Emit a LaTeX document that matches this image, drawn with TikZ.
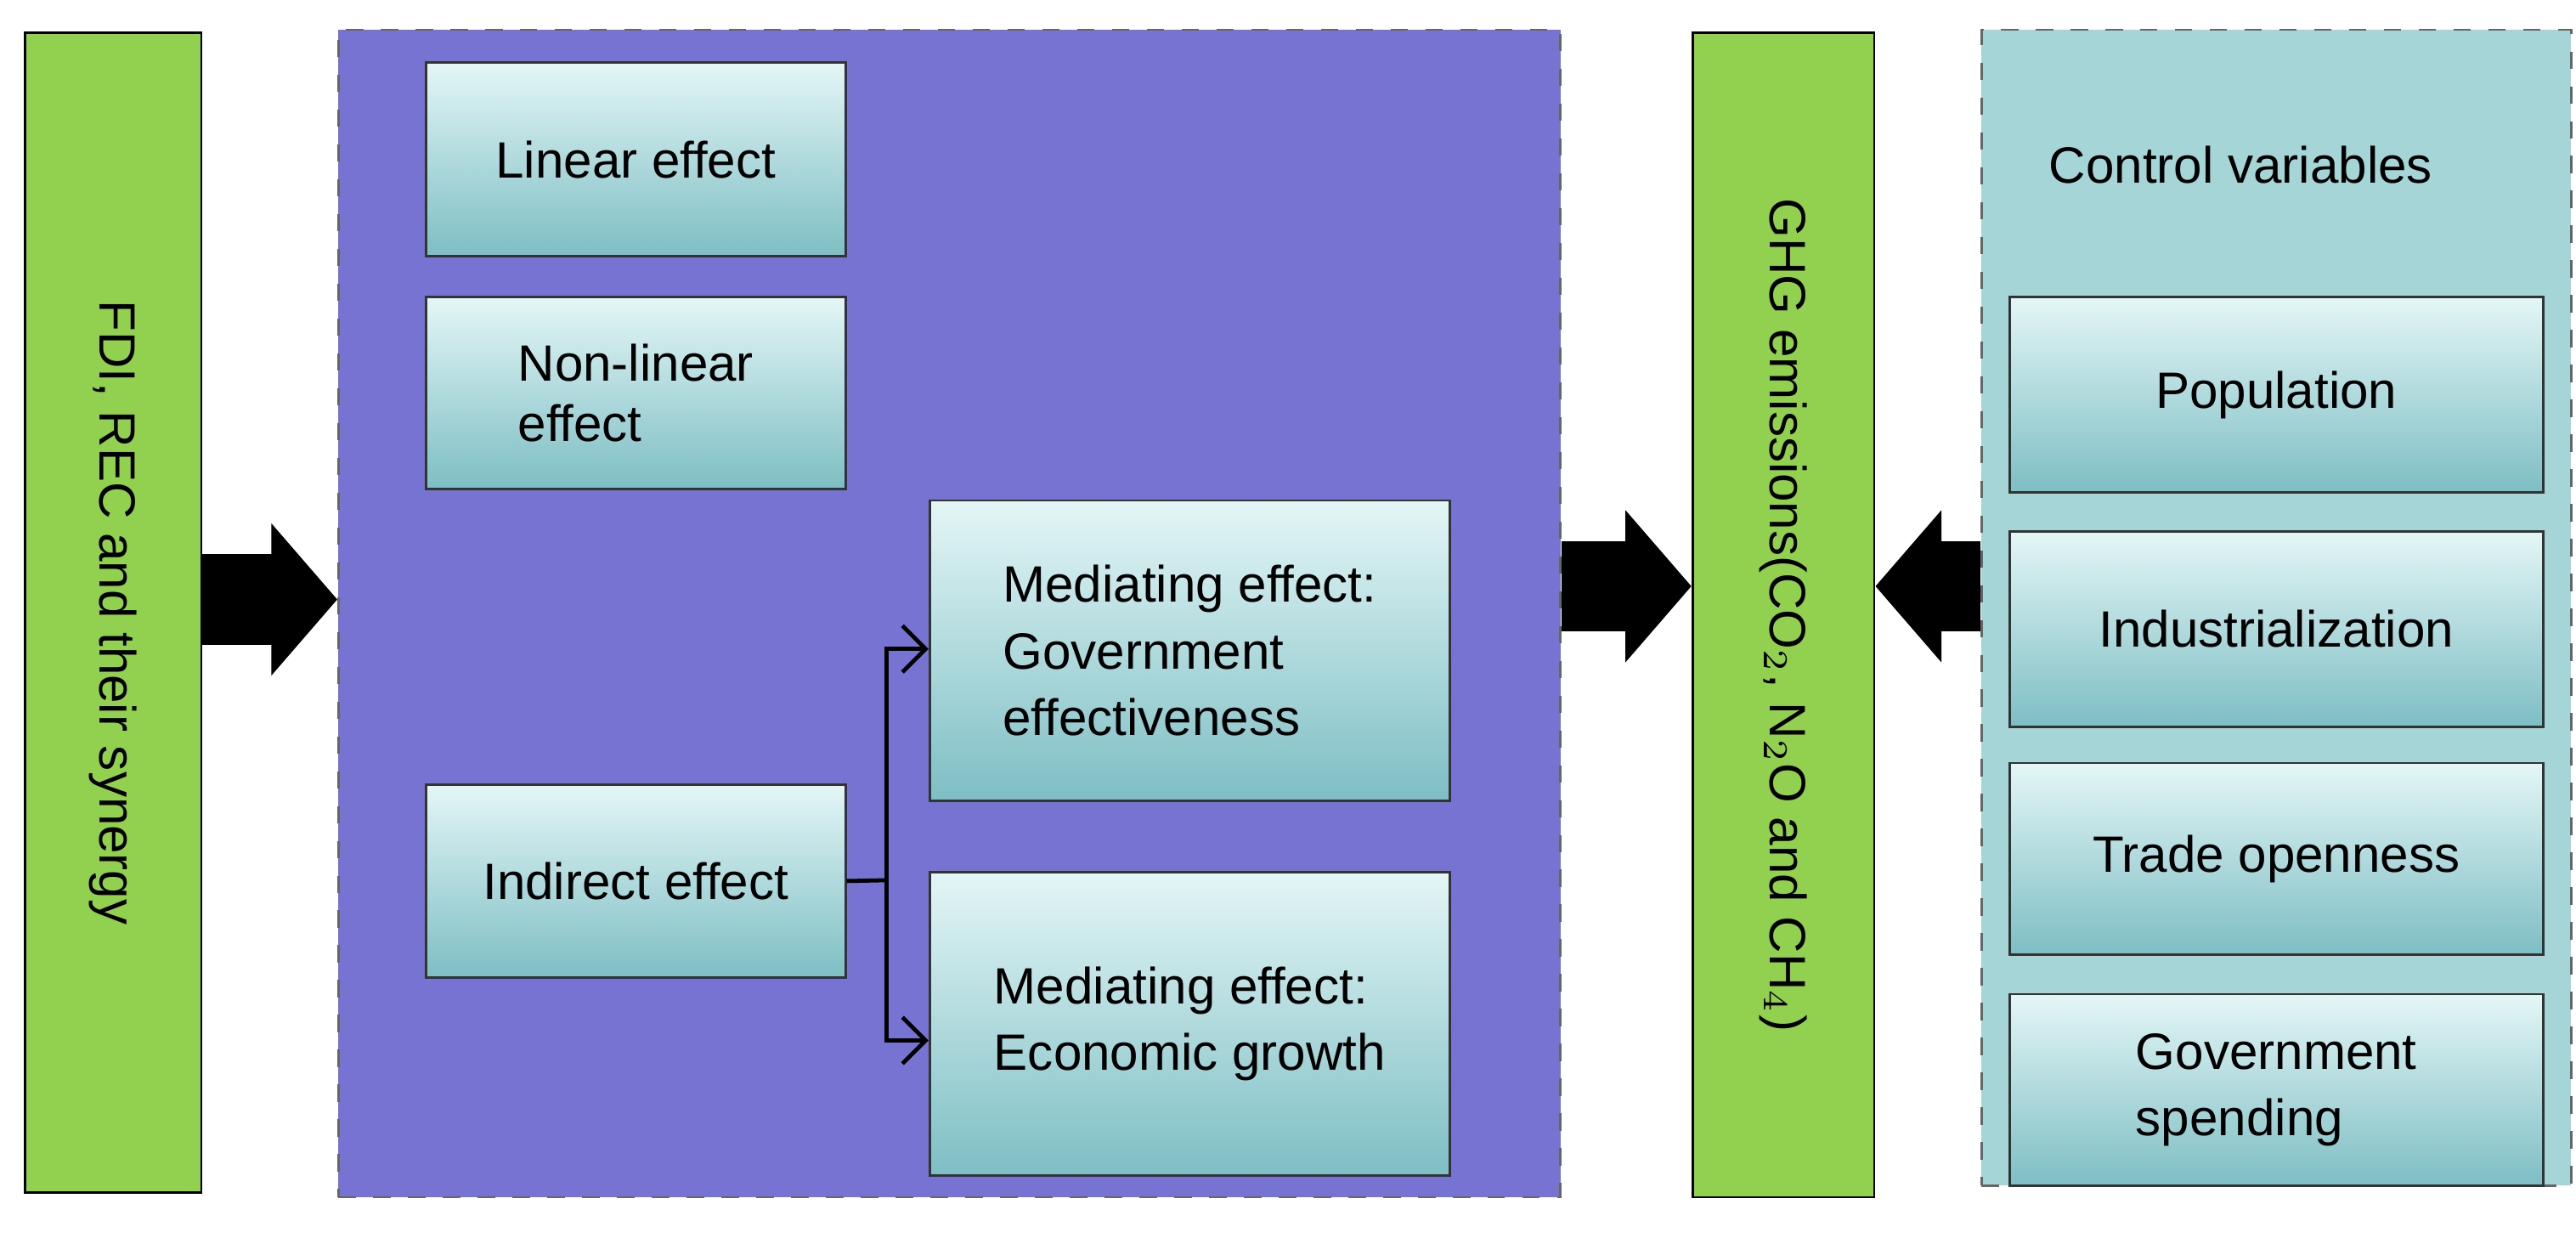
\documentclass[tikz,border=0pt]{standalone}
\usepackage{fontspec}
\setmainfont{Liberation Sans}
\usetikzlibrary{arrows.meta}
\begin{document}
\begin{tikzpicture}[x=1cm,y=-1cm,
  every node/.style={font=\fontsize{8.8}{11.5}\selectfont},
  bar/.style={draw=black,fill={rgb,255:red,146;green,208;blue,80},minimum width=1.07cm,inner sep=0},
  panel/.style={draw=black!60,dashed,inner sep=0},
  eff/.style={draw=black!80,top color={rgb,255:red,228;green,246;blue,246},bottom color={rgb,255:red,125;green,190;blue,196},inner sep=0,align=left},
  big/.style={line width=0.55cm,-{Triangle[length=0.4cm,width=0.9cm]}},
  thin/.style={line width=0.7pt,-{Straight Barb[length=4pt]}}]
\useasboundingbox (0,0) rectangle (15.6,7.496);
% panels
\node[panel,fill={rgb,255:red,118;green,115;blue,210},minimum width=7.4cm,minimum height=7.07cm] (mid) at (5.75,3.715) {};
\node[panel,fill={rgb,255:red,166;green,213;blue,216},minimum width=3.57cm,minimum height=7.0cm] (ctl) at (13.785,3.68) {};
% bars
\node[bar,minimum height=7.02cm] (fdi) at (0.685,3.71) {};
\node[rotate=-90] at (fdi.center) {FDI, REC and their synergy};
\node[bar,minimum height=7.05cm,minimum width=1.1cm] (ghg) at (10.8,3.725) {};
\node[rotate=-90] at (ghg.center) {GHG emissions(CO$_2$, N$_2$O and CH$_4$)};
% effects
\node[eff,minimum width=2.54cm,minimum height=1.17cm] (lin) at (3.85,0.965) {Linear effect};
\node[eff,minimum width=2.54cm,minimum height=1.16cm] (non) at (3.85,2.38) {Non-linear\\[-1pt]effect};
\node[eff,minimum width=2.54cm,minimum height=1.17cm] (ind) at (3.85,5.335) {Indirect effect};
\node[eff,minimum width=3.15cm,minimum height=1.82cm] (ge) at (7.205,3.94) {Mediating effect:\\Government\\effectiveness};
\node[eff,minimum width=3.15cm,minimum height=1.84cm] (eg) at (7.205,6.2) {Mediating effect:\\Economic growth};
% control vars
\node at (13.57,1.0) {Control variables};
\node[eff,minimum width=3.23cm,minimum height=1.18cm] (pop) at (13.785,2.39) {Population};
\node[eff,minimum width=3.23cm,minimum height=1.18cm] (inz) at (13.785,3.81) {Industrialization};
\node[eff,minimum width=3.23cm,minimum height=1.16cm] (tro) at (13.785,5.2) {Trade openness};
\node[eff,minimum width=3.23cm,minimum height=1.16cm] (gsp) at (13.785,6.6) {Government\\spending};
% arrows
\draw[big] (fdi.east|-0,3.63) -- (mid.west|-0,3.63);
\draw[big] (mid.east|-0,3.55) -- (ghg.west|-0,3.55);
\draw[big] (ctl.west|-0,3.55) -- (ghg.east|-0,3.55);
\coordinate (j) at (5.37,5.33);
\draw[line width=0.7pt] (ind.east) -- (j);
\draw[thin] (j) |- (ge.west|-0,3.93);
\draw[thin] (j) |- (eg.west|-0,6.3);
\end{tikzpicture}
\end{document}
